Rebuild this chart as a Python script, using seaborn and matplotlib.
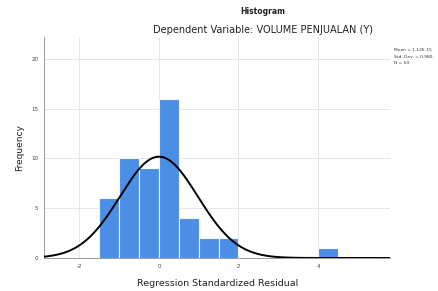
import numpy as np
import pandas as pd
import matplotlib
matplotlib.use("Agg")
import matplotlib.pyplot as plt
import seaborn as sns

# Data
bin_left = [-1.5, -1.0, -0.5, 0.0, 0.5, 1.0, 1.5, 2.0, 2.5, 3.0, 3.5, 4.0]
counts = [6, 10, 9, 16, 4, 2, 2, 0, 0, 0, 0, 1]
bin_width = 0.5
mean_val = 0.0
std_val = 0.980
n_val = 50
x_ticks = [-2, 0, 2, 4]
y_ticks = [0, 5, 10, 15, 20]
title = "Histogram"
subtitle = "Dependent Variable: VOLUME PENJUALAN (Y)"
xlabel = "Regression Standardized Residual"
ylabel = "Frequency"
stats_text = ["Mean = 1.12E-15", "Std. Dev. = 0.980", "N = 50"]

sns.set_style("white")
plt.rcParams['font.family'] = ['DejaVu Sans']

fig = plt.figure(figsize=(4.38, 2.91), dpi=100)
ax = fig.add_axes([44/438, 1-258/291, (390-44)/438, (258-37)/291])

df = pd.DataFrame({"x": [b + bin_width/2 for b in bin_left], "w": counts})
edges = bin_left + [bin_left[-1] + bin_width]
sns.histplot(data=df, x="x", weights="w", bins=edges, ax=ax,
             color="#4A8EE6", alpha=1.0, edgecolor="#f4f6fa", linewidth=0.8, zorder=2)

xs = np.linspace(-2.89, 5.81, 400)
ys = n_val * bin_width / (std_val * np.sqrt(2*np.pi)) * np.exp(-0.5*((xs-mean_val)/std_val)**2)
sns.lineplot(x=xs, y=ys, ax=ax, color="black", linewidth=1.4, zorder=3)

ax.set_xlim(-2.89, 5.81)
ax.set_ylim(0, 22.2)
ax.set_xticks(x_ticks)
ax.set_yticks(y_ticks)
ax.set_xticklabels([str(t) for t in x_ticks], fontsize=4, color="#444444")
ax.set_yticklabels([str(t) for t in y_ticks], fontsize=4, color="#444444")
ax.tick_params(axis="both", length=2, width=0.5, color="#aaaaaa", pad=2)
ax.grid(True, color="#e2e2e2", linewidth=0.6, zorder=0)
ax.set_axisbelow(True)
for s in ["top", "right"]:
    ax.spines[s].set_visible(False)
for s in ["left", "bottom"]:
    ax.spines[s].set_color("#999999")
    ax.spines[s].set_linewidth(0.7)

ax.set_xlabel("")
ax.set_ylabel("")
fig.text(218/438, 1-283/291, xlabel, ha="center", va="center", fontsize=6.8, color="#222222")
fig.text(20/438, 1-148/291, ylabel, ha="center", va="center", rotation=90, fontsize=6.5, color="#222222")
fig.text(263/438, 1-12/291, title, ha="center", va="center", fontsize=5.5, fontweight="bold", color="#222222")
fig.text(263/438, 1-30/291, subtitle, ha="center", va="center", fontsize=7, color="#222222")
for i, t in enumerate(stats_text):
    fig.text(394/438, 1-(50+6.5*i)/291, t, ha="left", va="center", fontsize=3.2, color="#333333")

fig.savefig("out.png", dpi=100)
